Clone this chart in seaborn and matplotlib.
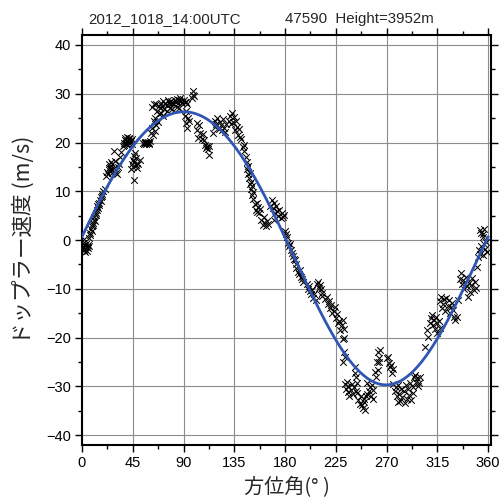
import numpy as np
import pandas as pd
import matplotlib
matplotlib.use("Agg")
import matplotlib.pyplot as plt
from matplotlib.ticker import MultipleLocator
import seaborn as sns

title_left = "2012_1018_14:00UTC"
title_right = "47590  Height=3952m"
xlabel = "方位角(° )"
ylabel = "ドップラー速度 (m/s)"
xticks = [0, 45, 90, 135, 180, 225, 270, 315, 360]
yticks = [-40, -30, -20, -10, 0, 10, 20, 30, 40]

seg_a = [(0.5,-0.5),(1,-1.5),(1.5,-1),(2,-2),(2.5,-1.2),(3,-1.8),(3.5,-0.8),(4,-1.5),(4.5,-2.2),(5,-1),
         (5.5,-1.6),(6,-1.2),(3,-2.5),(2,0.3),(6.5,0.5),(7,1.5),(7.5,1.0),(8,2.2),(8.5,1.8),(9,2.8),
         (9.5,3.5),(10,3.0),(10.5,4.2),(11,4.8),(11.5,4.0),(12,5.6),(12.5,5.2),(13,6.2),(13.5,6.9),(14,6.5),
         (14.5,7.4),(15,7.7),(15.5,7.2),(16,8.3),(16.5,8.0),(17,8.8),(17.5,9.4),(18,9.0),(19,10.0),(20,10.5)]
seg_b = [(21.5,13.2),(22.5,14),(23,13.5),(23.5,14.8),(24,15.5),(24.5,14.2),(25,15),(25.5,16),(26,14.5),
         (26.5,13.8),(27,15.5),(28,14.8),(28.4,18.2),(29,16.2),(30,13.8),(31,13.5),(32,15),(33,15.5),
         (34,17),(35,18),(36,19.2),(37,20),(37.5,19.5),(38,20.5),(38.5,21),(39,19.8),(39.5,20.6),(40,21.2),
         (40.5,20.2),(41,19.5),(41.5,20.8),(42,21),(43,20.3),(44,20.8),(44.5,19.6),(43.5,14.6),(44.5,15.5),
         (45,16.5),(45.5,15),(46,17.2),(46.5,16),(47,17.8),(47.5,16.8),(48,15.4),(49,14.8),(50,15.6),
         (51,16.5),(46,12.4),(54.5,20),(55,19.8),(55.5,20.2),(56,20),(56.5,19.8),(57,20.1),(57.5,20),
         (58,19.9),(58.5,20.2),(59,20),(59.5,19.8)]
seg_c = [(60,20.3),(61,22),(62,23),(63,21.5),(64,24.5),(64.5,22.4),(65,25),(66,23.5),(66.5,26.5),(67,24.2),
         (68,25.8),(69,27),(70,26),(71,27.4),(72,25.5),(73,26.8),(62,27.2),(64,27.8),(66,28),(68,27.5),
         (70,28.2),(72,28.5),(74,28),(75,27.6),(76,28.8),(77,28.3),(78,27.8),(79,28.6),(80,28.2),(81,27.9),
         (82,28.7),(83,28.4),(84,29),(85,28.2),(86,28.8),(87,29.2),(88,28.5),(89,28.1),(90,28.8),(91,28.4),
         (92,28.3),(93,28),(75,26.5),(78,27),(80,26.8),(84,27.3),(86,27),(91,25.5),(92,24),(92.5,26.4),
         (93,23),(94,25),(95,24.5),(98,29.8),(98.2,30.5),(97.8,29.2),(99,29.5)]
seg_d = [(101.5,24),(102,22.5),(103,21),(104,23.5),(105,22),(106,20.8),(107,21.8),(108,20.6),(109,19.5),
         (110,18.9),(111,19.3),(112,18.6),(113,19.2),(112.5,17.5),(116,22),(117.5,23.2),(118,24.5),
         (119,23.8),(120,25),(121,22.8),(122,24.2),(123,23.5),(124,22.5),(125,24.8),(126,23),(127,22.2),
         (128,23.8),(130,24.5),(131,25.5),(132,23.8),(133,26),(134,24.2),(135,25.2),(136,22.5),(136.5,24.5),
         (137,23.2),(138,21.5),(139,22.8),(140,21.2),(141,20.8)]
seg_e = [(142.5,19),(143.5,18.2),(144,19.5),(145,17),(146,16),(146.5,14.5),(147,15.2),(147.5,13.5),(148,12.8),
         (148.5,13.8),(149,11.5),(149.5,12),(150,10.5),(150.5,11),(151,9.2),(151.5,9.8),(152,8.5),(153,7.5),
         (154,6.2),(155,7.7),(155.5,5.8),(156,6.8),(157,5.6),(157.5,6.4),(159,4.2),(160,3),(161,4.8),
         (162,3.5),(163,2.8),(164,4),(164.5,3.2),(167,7),(168,8.3),(169,6.5),(170,7.6),(171,5.5),(172,7),
         (173,6),(174,5),(175,6.2),(176,4.5),(177,5.5),(178,4.8),(170.5,4.2)]
seg_f = [(179,5.2),(180,1.8),(181,1.2),(182,0.7),(182.5,-0.5),(183.5,-1.2),(184,-0.8),(185,-2),(186,-2.6),
         (187,-3.2),(188,-3.8),(189,-4),(189.5,-5),(190,-5.8),(191,-6.5),(192,-7),(193,-6.2),(194,-7.5),
         (195,-8),(196,-8.5),(199.5,-9),(200,-10),(201,-9.5),(202,-10.5),(203,-11),(204,-10.2),(205,-11.8),
         (206,-11),(207,-12.2),(208,-9),(209,-8.5),(210,-9.8),(211,-9.2),(212,-10),(212.5,-11.5),(213,-10.8),
         (215,-12),(217,-11.6),(218,-13),(219,-12.5),(220,-14),(221,-13.2),(222,-15),(223,-14.5),(224,-13.8),
         (225,-16),(226,-15.2),(227,-17),(228,-16.5),(229,-18.4),(230,-17.5),(231,-16.3),(232,-18.2)]
seg_g = [(231.5,-20.2),(232,-20),(232.5,-23),(233,-24),(231.5,-25),(233.5,-29.5),(234,-30.5),(235,-29),
         (235.5,-31.2),(236,-30),(237,-32),(238,-30.8),(239,-29.4),(240,-31.5),(241,-30.2),(242,-26),
         (242,-27.2),(242.5,-28),(243,-31),(243.5,-29.2),(244,-31.3),(245,-32.8),(246,-33.5),(247,-32),
         (248,-33.9),(249,-34.5),(249.5,-32.5),(250,-33.2),(251,-34.8),(252,-32),(252.5,-31.5),(253,-29.3),
         (254,-31),(255,-30.2),(256,-32),(257,-29.6),(258,-30.8),(258,-32.5),(260,-27),(261,-28),(261.5,-25),
         (262,-26.6),(262.5,-23),(263,-24.2),(264,-22.5),(263.5,-25),(270,-24.2),(271,-24),(272,-25.2),
         (273,-26),(274,-25.5),(275,-27.2),(276,-26.5),(276,-29.5),(277,-31),(278,-30.2),(279,-32),
         (280,-29.6),(281,-31.5),(282,-33),(283,-30.5),(284,-32.2),(285,-31),(286,-33.4),(287,-29.8),
         (288,-32.5),(289,-30.6),(290,-31.8),(291,-29.3),(292,-32.8),(293,-30.2),(293.5,-31.4),(280,-33.2),
         (294,-28),(295,-27.6),(296,-29),(297,-28.3),(298,-30),(299,-29.2),(300,-28)]
seg_h = [(304,-22),(306,-18.5),(307,-19.8),(308,-17),(309,-16),(310,-15.3),(311,-17.5),(312,-16.3),
         (313,-18.2),(314,-15.8),(314.5,-17),(315,-19),(316,-16.5),(317,-18),(317.5,-12.5),(318,-11.6),
         (319,-14),(320,-13),(321,-12),(322,-14.5),(323,-11.8),(324,-13.5),(325,-12.3),(326,-15),(327,-13.8),
         (328,-12.8),(329,-14.4),(330,-15.7),(331,-16.3),(332,-15.8),(333,-12.2),(335,-8),(336,-6.7),(337,-9),
         (338,-8.2),(339,-10),(340,-7.5),(341,-9.5),(342,-11.6),(343,-8.8),(344,-10.6),(345,-9.2),(346,-7.8),
         (347,-10.2),(348,-8.5),(349,-9.8),(350,-5.6),(351,-3.4),(352,-2),(353,-2.8),(354,-1.2),(355,-3),
         (356,-0.8),(357,-1.8),(358,-0.3),(359,-2.5),(353,2),(354,1.5),(355,0.7),(356,2.2),(355.5,1.2)]

pts = seg_a + seg_b + seg_c + seg_d + seg_e + seg_f + seg_g + seg_h
df = pd.DataFrame(pts, columns=["az", "v"])

# VAD least-squares fit (mean + first and second harmonics) of the observations
rad = np.deg2rad(df["az"].values)
A = np.column_stack([np.ones_like(rad), np.cos(rad), np.sin(rad), np.cos(2*rad), np.sin(2*rad)])
coef, *_ = np.linalg.lstsq(A, df["v"].values, rcond=None)
az_fit = np.arange(0, 361, 1.0)
rf = np.deg2rad(az_fit)
Af = np.column_stack([np.ones_like(rf), np.cos(rf), np.sin(rf), np.cos(2*rf), np.sin(2*rf)])
fit = pd.DataFrame({"az": az_fit, "v": Af @ coef})

sns.set_theme(style="ticks")
plt.rcParams["font.family"] = ["Liberation Sans", "Noto Sans CJK JP", "DejaVu Sans"]

fig = plt.figure(figsize=(5.0, 5.03), dpi=100)
ax = fig.add_axes([0.164, 0.1153, 0.818, 0.8147])

sns.scatterplot(data=df, x="az", y="v", marker="x", color="black", s=22, linewidth=0.75, ax=ax, zorder=3)
sns.lineplot(data=fit, x="az", y="v", color="#2f55b5", linewidth=2.0, ax=ax, zorder=4)

ax.set_xlim(0, 362.5)
ax.set_ylim(-42, 42)
ax.set_xticks(xticks)
ax.set_yticks(yticks)
ax.xaxis.set_minor_locator(MultipleLocator(22.5))
ax.yaxis.set_minor_locator(MultipleLocator(5))
ax.grid(True, which="major", color="#8c8c8c", linewidth=0.8)
ax.set_axisbelow(True)
ax.tick_params(which="both", direction="out", top=True, right=True, color="black", width=1.0)
ax.tick_params(which="major", length=5, labelsize=10.5, pad=3, colors="black")
ax.tick_params(which="minor", length=3)
for s in ax.spines.values():
    s.set_linewidth(1.5)
    s.set_color("black")

ax.set_xlabel(xlabel, fontsize=14.5, family=["Noto Sans CJK JP", "DejaVu Sans"], labelpad=5)
ax.set_ylabel(ylabel, fontsize=15.5, family=["Noto Sans CJK JP", "DejaVu Sans"], labelpad=8)
fig.text(0.176, 0.962, title_left, fontsize=10.8, ha="left", va="center")
fig.text(0.57, 0.962, title_right, fontsize=10.8, ha="left", va="center")

fig.savefig("out.png", dpi=100)
